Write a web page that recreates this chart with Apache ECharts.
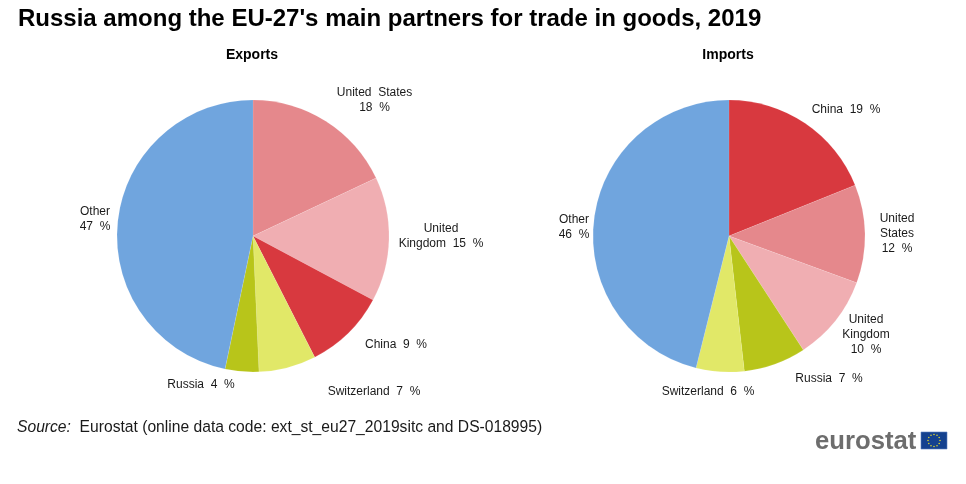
<!DOCTYPE html>
<html><head><meta charset="utf-8">
<style>html,body{margin:0;padding:0;background:#fff}#c{width:966px;height:484px}</style>
<script src="https://cdn.jsdelivr.net/npm/echarts@6/dist/echarts.min.js"></script>
</head><body><div id="c"></div>
<script>
var exportNames = ['United States','United Kingdom','China','Switzerland','Russia','Other'];
var exportValues = [18, 14.8, 9.7, 6.8, 4, 46.7];
var exportLabels = ['United  States\n18  %','United\nKingdom  15  %','China  9  %','Switzerland  7  %','Russia  4  %','Other\n47  %'];
var importNames = ['China','United States','United Kingdom','Russia','Switzerland','Other'];
var importValues = [18.9, 11.7, 10.2, 7.4, 5.7, 46.1];
var importLabels = ['China  19  %','United\nStates\n12  %','United\nKingdom\n10  %','Russia  7  %','Switzerland  6  %','Other\n46  %'];
var colors = {'United States':'#e5888c','United Kingdom':'#f0aeb2','China':'#d8393f','Switzerland':'#e1e868','Russia':'#b8c51a','Other':'#70a5de'};
var exportPos = [[374.5,85],[441,221],[396,337],[374,384],[201,377],[95,204]];
var importPos = [[846,102],[897,211],[866,312],[829,371],[708,384],[574,212]];

function makePie(names, values, labels, pos, cx){
  return {
    type:'pie', radius:136, center:[cx,236], startAngle:90, clockwise:true, silent:true, animation:false,
    data:names.map(function(n,i){return {name:n,value:values[i],itemStyle:{color:colors[n]},label:{formatter:labels[i]}};}),
    itemStyle:{borderColor:'rgba(255,255,255,0.2)',borderWidth:0.5},
    label:{show:true,position:'outside',color:'#1a1a1a',fontFamily:'"Liberation Sans",Arial,sans-serif',fontSize:12,lineHeight:15,align:'center'},
    labelLine:{show:false},
    labelLayout:function(p){var q=pos[p.dataIndex];return {x:q[0],y:q[1],align:'center',verticalAlign:'top',hideOverlap:false,moveOverlap:false};}
  };
}
var stars=[];
for(var k=0;k<12;k++){
  var a=k*Math.PI/6;
  stars.push({type:'circle',shape:{cx:934+6*Math.sin(a),cy:440.5-6*Math.cos(a),r:0.8},style:{fill:'#d9d230'}});
}
var chart=echarts.init(document.getElementById('c'),null,{renderer:'canvas'});
chart.setOption({
  backgroundColor:'#fff',animation:false,
  title:[
    {text:"Russia among the EU-27's main partners for trade in goods, 2019",left:18,top:7,padding:0,textStyle:{fontFamily:'"Liberation Sans",Arial,sans-serif',fontSize:24,fontWeight:'bold',color:'#000'}},
    {text:'Exports',left:252,top:48,padding:0,textAlign:'center',textStyle:{fontFamily:'"Liberation Sans",Arial,sans-serif',fontSize:14,fontWeight:'bold',color:'#000'}},
    {text:'Imports',left:728,top:48,padding:0,textAlign:'center',textStyle:{fontFamily:'"Liberation Sans",Arial,sans-serif',fontSize:14,fontWeight:'bold',color:'#000'}}
  ],
  series:[makePie(exportNames,exportValues,exportLabels,exportPos,253),makePie(importNames,importValues,importLabels,importPos,729)],
  graphic:[
    {type:'text',left:17,top:420,style:{text:'{i|Source:}  Eurostat (online data code: ext_st_eu27_2019sitc and DS-018995)',fill:'#1a1a1a',font:'15.65px "Liberation Sans",Arial,sans-serif',rich:{i:{fontStyle:'italic',fontSize:15.65,fontFamily:'"Liberation Sans",Arial,sans-serif',fill:'#1a1a1a'}}}},
    {type:'text',left:815,top:429,style:{text:'eurostat',fill:'#6d6d6d',font:'bold 25.7px "Liberation Sans",Arial,sans-serif'}},
    {type:'rect',shape:{x:921,y:432,width:26,height:17},style:{fill:'#14418f',stroke:'#5b82c0',lineWidth:0.6}}
  ].concat(stars)
});
</script></body></html>
